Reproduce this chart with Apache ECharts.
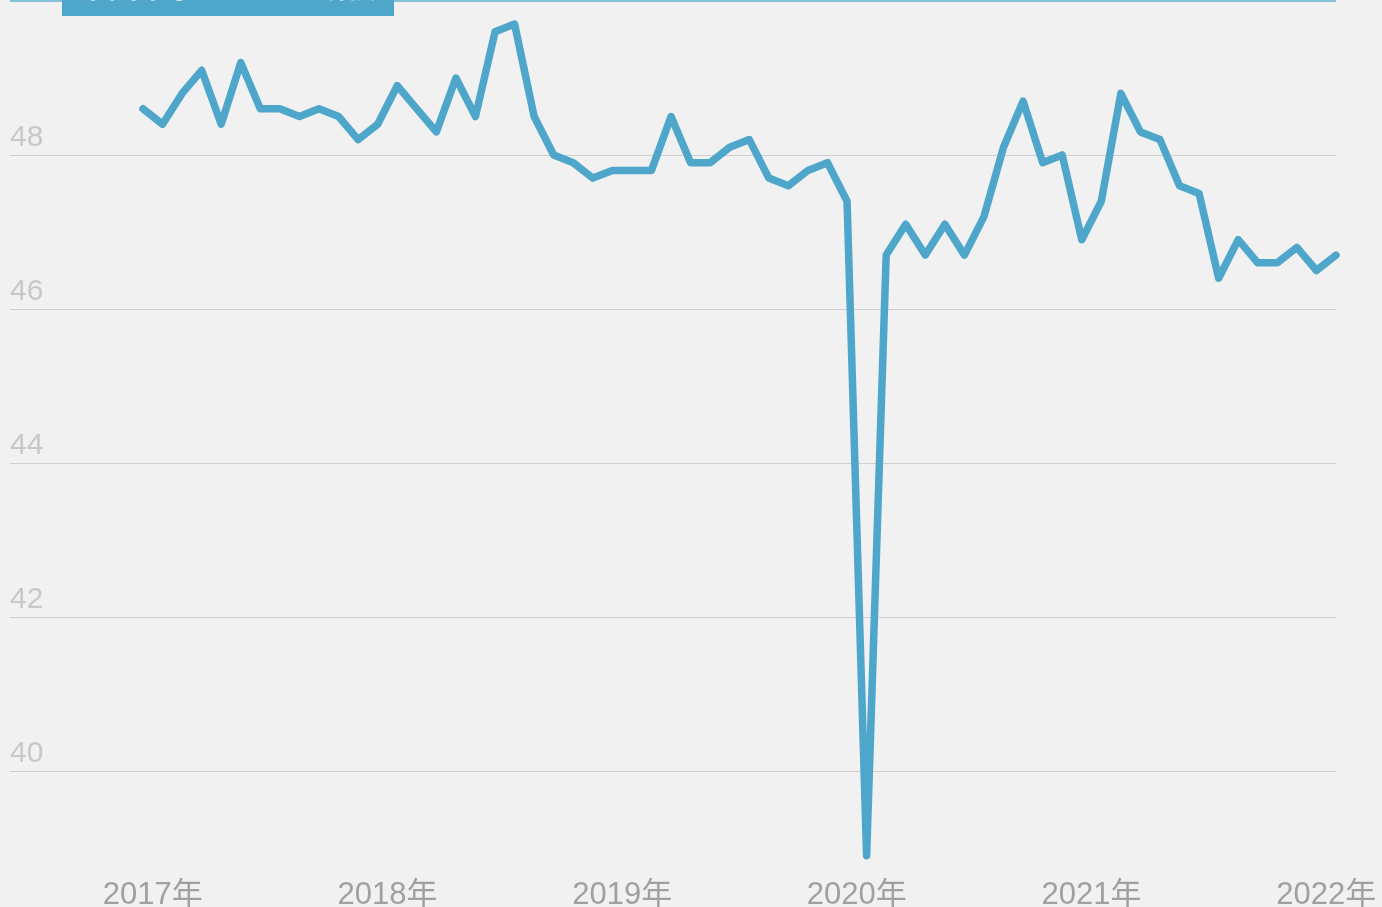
<!DOCTYPE html>
<html>
<head>
<meta charset="utf-8">
<script src="https://cdn.jsdelivr.net/npm/echarts@6/dist/echarts.min.js"></script>
<style>
  html, body { margin: 0; padding: 0; background: #f1f1f1; }
  #chart { width: 1382px; height: 907px; }
</style>
</head>
<body>
<div id="chart"></div>
<script>
// 月度数据：2017年1月 - 2022年2月
const values = [
  48.6, 48.4, 48.8, 49.1, 48.4, 49.2, 48.6, 48.6, 48.5, 48.6, 48.5, 48.2,
  48.4, 48.9, 48.6, 48.3, 49.0, 48.5, 49.6, 49.7, 48.5, 48.0, 47.9, 47.7,
  47.8, 47.8, 47.8, 48.5, 47.9, 47.9, 48.1, 48.2, 47.7, 47.6, 47.8, 47.9,
  47.4, 38.9, 46.7, 47.1, 46.7, 47.1, 46.7, 47.2, 48.1, 48.7, 47.9, 48.0,
  46.9, 47.4, 48.8, 48.3, 48.2, 47.6, 47.5, 46.4, 46.9, 46.6, 46.6, 46.8,
  46.5, 46.7
];
const years = ['2017年', '2018年', '2019年', '2020年', '2021年', '2022年'];
// 年份标签位置（月序号）
const yearPos = [0.5, 12.5, 24.5, 36.5, 48.5, 60.5];

const seriesData = values.map((v, i) => [i, v]);

const myChart = echarts.init(document.getElementById('chart'));
const option = {
  backgroundColor: '#f1f1f1',
  animation: false,
  textStyle: { fontFamily: 'Liberation Sans, Noto Sans CJK SC, sans-serif' },
  grid: { left: 10, right: 46, top: 1, bottom: -18, outerBoundsMode: 'none' },
  xAxis: {
    type: 'value',
    min: -6.8,
    max: 61,
    axisLine: { show: false },
    axisTick: { show: false },
    splitLine: { show: false },
    axisLabel: {
      customValues: yearPos,
      inside: true,
      margin: 14,
      color: '#a0a0a0',
      fontSize: 31,
      formatter: (v) => years[yearPos.indexOf(v)] || ''
    }
  },
  yAxis: {
    type: 'value',
    min: 38,
    max: 50,
    interval: 2,
    axisLine: { show: false },
    axisTick: { show: false },
    splitLine: { lineStyle: { color: '#cfcfcf', width: 1 } },
    axisLabel: {
      inside: true,
      margin: 0,
      verticalAlign: 'bottom',
      padding: [0, 0, 2, 0],
      color: '#c8c8c8',
      fontSize: 30,
      formatter: (v) => (v === 38 || v === 50) ? '' : String(v)
    }
  },
  series: [{
    type: 'line',
    data: seriesData,
    symbol: 'none',
    lineStyle: { color: '#4ea6ca', width: 7.5, cap: 'round', join: 'round' },
    markLine: {
      silent: true,
      symbol: 'none',
      label: { show: false },
      lineStyle: { color: '#86c1dc', width: 2, type: 'solid' },
      data: [{ yAxis: 50 }]
    }
  }],
  graphic: [
    {
      type: 'rect',
      left: 62, top: 0,
      shape: { width: 332, height: 16 },
      style: { fill: '#4ea6ca' },
      z: 100
    },
    {
      type: 'text',
      left: 78, top: -29,
      style: {
        text: '中国中小企业 PMI 指数',
        fill: '#ffffff',
        font: 'bold 30px Noto Sans CJK SC'
      },
      z: 101
    }
  ]
};
myChart.setOption(option);
</script>
</body>
</html>
